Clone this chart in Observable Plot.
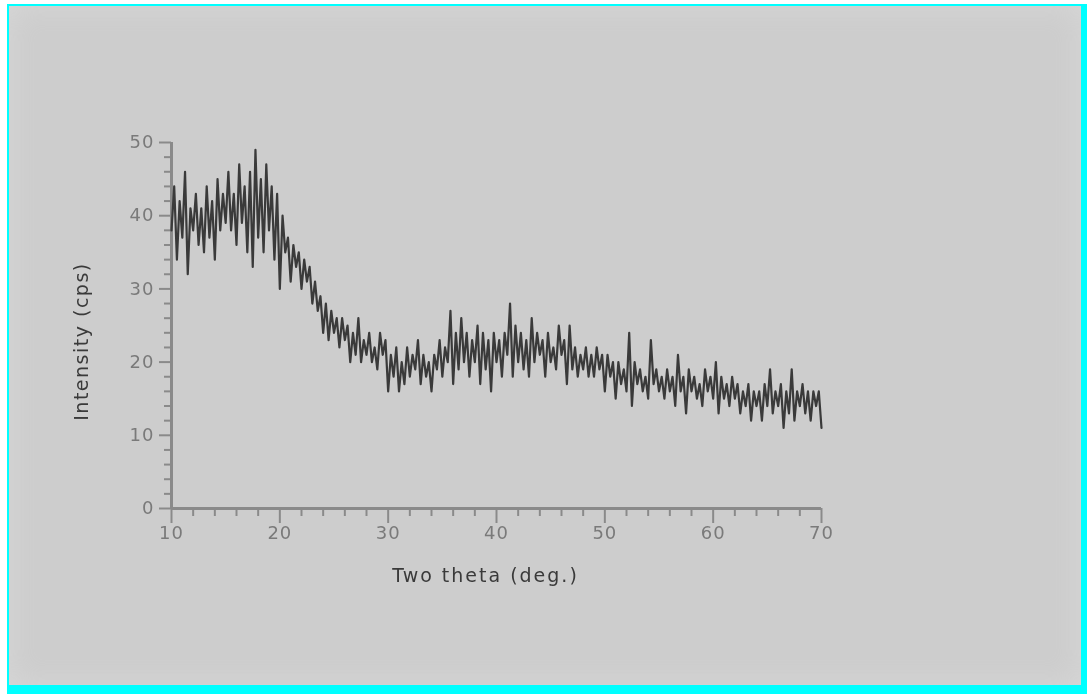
<!DOCTYPE html>
<html><head><meta charset="utf-8">
<script src="https://cdn.jsdelivr.net/npm/d3@7"></script>
<script src="https://cdn.jsdelivr.net/npm/@observablehq/plot@0.6"></script>
<style>
html,body{margin:0;padding:0;background:#fff;width:1087px;height:694px;overflow:hidden;}
#frame{position:absolute;left:7px;top:4px;width:1080px;height:690px;background:#00ffff;}
#panel{position:absolute;left:9px;top:6px;width:1072px;height:679px;background:#cdcdcd;box-shadow:inset 0 0 30px #d7d7d7;}
#chart{position:absolute;left:0;top:0;}
#chart svg{filter:blur(0.6px);}
</style></head><body>
<div id="frame"></div>
<div id="panel"><div id="chart"></div></div>
<script>
// Two-theta scan: start, step (regular XRD scan grid)
const thetaStart = 10;
const thetaStep = 0.25;

// Intensity (cps), one value per 0.25 deg from 10 to 70
const intensity = [
  // 10 - 19.75
  38,44,34,42,37,46,32,41,
  38,43,36,41,35,44,37,42,
  34,45,38,43,39,46,38,43,
  36,47,39,44,35,46,33,49,
  37,45,35,47,38,44,34,43,
  // 20 - 29.75
  30,40,35,37,31,36,33,35,
  30,34,31,33,28,31,27,29,
  24,28,23,27,24,26,22,26,
  23,25,20,24,21,26,20,23,
  21,24,20,22,19,24,21,23,
  // 30 - 39.75
  16,21,18,22,16,20,17,22,
  18,21,19,23,17,21,18,20,
  16,21,19,23,18,22,20,27,
  17,24,19,26,20,24,18,23,
  20,25,17,24,19,23,16,24,
  // 40 - 49.75
  20,23,18,24,21,28,18,25,
  20,24,19,23,18,26,20,24,
  21,23,18,24,20,22,19,25,
  21,23,17,25,19,22,18,21,
  19,22,18,21,18,22,19,21,
  // 50 - 59.75
  16,21,18,20,15,20,17,19,
  16,24,14,20,17,19,16,18,
  15,23,17,19,16,18,15,19,
  16,18,14,21,16,18,13,19,
  16,18,15,17,14,19,16,18,
  // 60 - 69.75
  15,20,13,18,15,17,14,18,
  15,17,13,16,14,17,12,16,
  14,16,12,17,14,19,13,16,
  14,17,11,16,13,19,12,16,
  14,17,13,16,12,16,14,16,
  // 70
  11
];

const xMajorTicks = [10, 20, 30, 40, 50, 60, 70];
const xMinorTicks = [12,14,16,18,22,24,26,28,32,34,36,38,42,44,46,48,52,54,56,58,62,64,66,68];
const yMajorTicks = [0, 10, 20, 30, 40, 50];
const yMinorTicks = [2,4,6,8,12,14,16,18,22,24,26,28,32,34,36,38,42,44,46,48];
const xTitle = "Two theta (deg.)";
const yTitle = "Intensity (cps)";

const data = intensity.map((v, i) => ({theta: thetaStart + i * thetaStep, cps: v}));

const axisColor = "#8a8a8a";
const chart = Plot.plot({
  width: 1072, height: 679,
  marginLeft: 162, marginRight: 260, marginTop: 136, marginBottom: 177,
  x: {domain: [10, 70]},
  y: {domain: [0, 50]},
  style: {background: "transparent", fontFamily: "'DejaVu Sans', sans-serif", fontSize: "18px", color: "#7a7a7a"},
  marks: [
    Plot.axisY(yMinorTicks, {tickSize: 7, tickFormat: () => "", stroke: axisColor, strokeWidth: 2, label: null}),
    Plot.axisY(yMajorTicks, {tickSize: 12, tickPadding: 5, stroke: axisColor, strokeWidth: 2, label: null}),
    Plot.axisX(xMinorTicks, {tickSize: 8, tickFormat: () => "", stroke: axisColor, strokeWidth: 2, label: null}),
    Plot.axisX(xMajorTicks, {tickSize: 15, tickPadding: 3, stroke: axisColor, strokeWidth: 2, label: null}),
    Plot.ruleX([10], {stroke: axisColor, strokeWidth: 3}),
    Plot.ruleY([0], {stroke: axisColor, strokeWidth: 3}),
    Plot.line(data, {x: "theta", y: "cps", stroke: "#3a3a3a", strokeWidth: 2.2}),
    Plot.text([yTitle], {frameAnchor: "left", textAnchor: "middle", dx: -90, dy: 16, rotate: -90, fontSize: 19, fill: "#3a3a3a"}),
    Plot.text([xTitle], {frameAnchor: "bottom", textAnchor: "middle", dx: -11, dy: 73, fontSize: 19, fill: "#3a3a3a"})
  ]
});
chart.querySelectorAll("text").forEach(t => {
  const s = t.textContent;
  if (s === xTitle) t.setAttribute("letter-spacing", "2");
  else if (s === yTitle) t.setAttribute("letter-spacing", "1.5");
  else t.setAttribute("letter-spacing", "1");
});
document.getElementById("chart").appendChild(chart);
</script>
</body></html>
